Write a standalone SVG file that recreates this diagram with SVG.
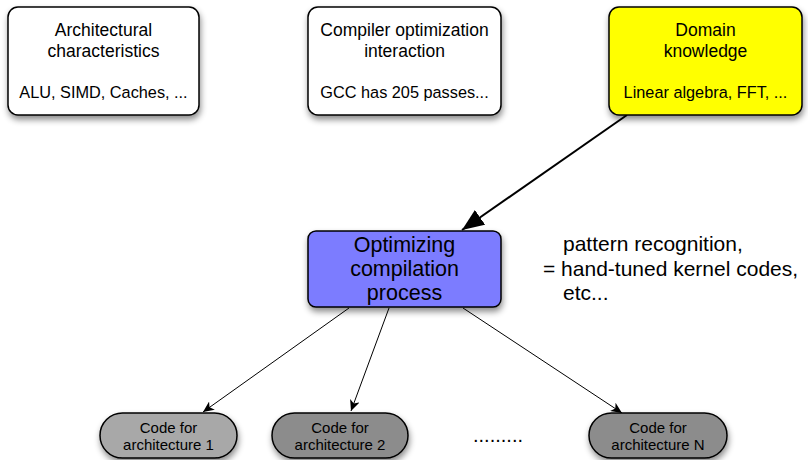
<svg xmlns="http://www.w3.org/2000/svg" width="808" height="460" viewBox="0 0 808 460">
<defs>
<filter id="sh" x="-10%" y="-10%" width="130%" height="140%">
<feDropShadow dx="1" dy="4" stdDeviation="3" flood-color="#000" flood-opacity="0.45"/>
</filter>
<marker id="big" markerWidth="24" markerHeight="18" refX="22" refY="9" orient="auto" markerUnits="userSpaceOnUse">
<path d="M0,0 L22,9 L0,18 Z" fill="#000"/>
</marker>
<marker id="small" markerWidth="12" markerHeight="10" refX="11" refY="5" orient="auto" markerUnits="userSpaceOnUse">
<path d="M0,0 L11,5 L0,10 L3,5 Z" fill="#000"/>
</marker>
</defs>
<style>
text{font-family:"Liberation Sans",Arial,Helvetica,sans-serif;fill:#000;text-anchor:middle}
.box{stroke:#000;stroke-width:1.5;filter:url(#sh)}
.t{font-size:17.5px}
.s{font-size:16.3px}
.c{font-size:21.5px}
.r{font-size:21px;text-anchor:start}
.n{font-size:15px}
.d{font-size:20px}
.ln{stroke:#000;fill:none}
</style>
<g id="connectors">
<line class="ln" x1="627" y1="115" x2="462" y2="230" stroke-width="2" marker-end="url(#big)"/>
<line class="ln" x1="349" y1="308" x2="203" y2="412" stroke-width="1" marker-end="url(#small)"/>
<line class="ln" x1="389" y1="308" x2="351" y2="411" stroke-width="1" marker-end="url(#small)"/>
<line class="ln" x1="463" y1="308" x2="622" y2="413" stroke-width="1" marker-end="url(#small)"/>
</g>
<g id="arch">
<rect class="box" x="8" y="7" width="191" height="108" rx="10" fill="#fff"/>
<text class="t" x="103.5" y="36">Architectural</text>
<text class="t" x="103.5" y="57">characteristics</text>
<text class="s" x="103.5" y="98">ALU, SIMD, Caches, ...</text>
</g>
<g id="compiler">
<rect class="box" x="308" y="7" width="193" height="108" rx="10" fill="#fff"/>
<text class="t" x="404.5" y="36">Compiler optimization</text>
<text class="t" x="404.5" y="57">interaction</text>
<text class="s" x="404.5" y="98">GCC has 205 passes...</text>
</g>
<g id="domain">
<rect class="box" x="609" y="7" width="193" height="108" rx="10" fill="#ffff00"/>
<text class="t" x="705.5" y="36">Domain</text>
<text class="t" x="705.5" y="57">knowledge</text>
<text class="s" x="705.5" y="98">Linear algebra, FFT, ...</text>
</g>
<g id="process">
<rect class="box" x="308" y="231" width="193" height="76" rx="8" fill="#7b7bff"/>
<text class="c" x="404.5" y="252">Optimizing</text>
<text class="c" x="404.5" y="276">compilation</text>
<text class="c" x="404.5" y="300">process</text>
</g>
<g id="note">
<text class="r" x="563" y="251">pattern recognition,</text>
<text class="r" x="543" y="276">= hand-tuned kernel codes,</text>
<text class="r" x="563" y="300">etc...</text>
</g>
<g id="code1">
<rect class="box" x="100" y="413" width="137" height="45" rx="22.5" fill="#a8a8a8"/>
<text class="n" x="168.5" y="433">Code for</text>
<text class="n" x="168.5" y="450">architecture 1</text>
</g>
<g id="code2">
<rect class="box" x="272" y="413" width="136" height="45" rx="22.5" fill="#8c8c8c"/>
<text class="n" x="340" y="433">Code for</text>
<text class="n" x="340" y="450">architecture 2</text>
</g>
<g id="dots">
<text class="d" x="498" y="442">.........</text>
</g>
<g id="codeN">
<rect class="box" x="589" y="413" width="138" height="45" rx="22.5" fill="#8c8c8c"/>
<text class="n" x="658" y="433">Code for</text>
<text class="n" x="658" y="450">architecture N</text>
</g>
</svg>
